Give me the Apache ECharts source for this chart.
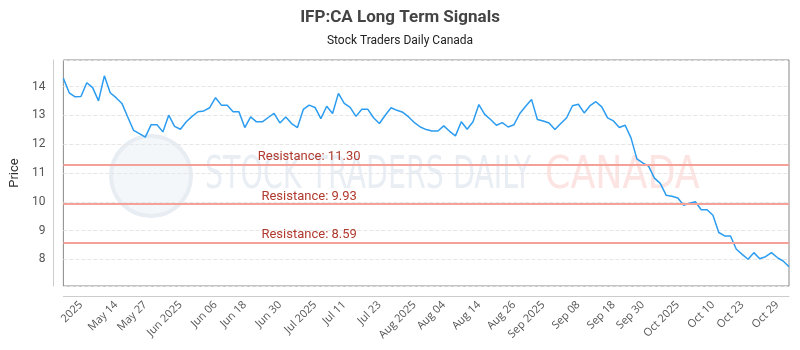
<!DOCTYPE html>
<html>
<head>
<meta charset="utf-8">
<script src="https://cdn.jsdelivr.net/npm/echarts@6/dist/echarts.min.js"></script>
<style>
  html, body { margin: 0; padding: 0; background: #fff; }
  #chart { width: 800px; height: 350px; }
</style>
</head>
<body>
<div id="chart"></div>
<script>
// closing prices, one per trading day
const prices = [
  14.29, 13.79, 13.65, 13.66, 14.14, 13.97, 13.51, 14.38, 13.79, 13.62,
  13.42, 12.95, 12.48, 12.37, 12.25, 12.68, 12.68, 12.43, 13.01, 12.62,
  12.52, 12.78, 12.97, 13.13, 13.16, 13.27, 13.62, 13.36, 13.36, 13.13,
  13.13, 12.58, 12.95, 12.78, 12.78, 12.93, 13.07, 12.74, 12.95, 12.72,
  12.58, 13.21, 13.36, 13.28, 12.89, 13.32, 13.07, 13.77, 13.42, 13.28,
  12.97, 13.22, 13.22, 12.92, 12.72, 13.01, 13.27, 13.18, 13.11, 12.95,
  12.75, 12.60, 12.51, 12.46, 12.46, 12.64, 12.45, 12.29, 12.78, 12.52,
  12.78, 13.38, 13.04, 12.86, 12.66, 12.75, 12.60, 12.68, 13.07, 13.32,
  13.56, 12.86, 12.81, 12.74, 12.51, 12.72, 12.92, 13.34, 13.39, 13.09,
  13.34, 13.48, 13.30, 12.92, 12.81, 12.58, 12.66, 12.22, 11.49, 11.35,
  11.24, 10.82, 10.64, 10.23, 10.19, 10.13, 9.88, 9.95, 10.0, 9.72,
  9.72, 9.53, 8.93, 8.81, 8.81, 8.35, 8.17, 8.00, 8.23, 8.02,
  8.09, 8.23, 8.06, 7.94, 7.74
];

const labelIdx = [3, 9, 14, 20, 26, 31, 37, 43, 48, 54, 60, 65, 71, 77, 82, 88, 94, 99, 105, 111, 116, 122];
const labelText = ["2025", "May 14", "May 27", "Jun 2025", "Jun 06", "Jun 18", "Jun 30",
  "Jul 2025", "Jul 11", "Jul 23", "Aug 2025", "Aug 04", "Aug 14", "Aug 26",
  "Sep 2025", "Sep 08", "Sep 18", "Sep 30", "Oct 2025", "Oct 10", "Oct 23", "Oct 29"];

const resistance = [11.30, 9.93, 8.59];

// weekday dates as categories
const dates = [];
const d = new Date(2025, 4, 2);
while (dates.length < prices.length) {
  const wd = d.getDay();
  if (wd !== 0 && wd !== 6) {
    dates.push(d.getFullYear() + "-" + String(d.getMonth() + 1).padStart(2, "0") + "-" + String(d.getDate()).padStart(2, "0"));
  }
  d.setDate(d.getDate() + 1);
}

const chart = echarts.init(document.getElementById("chart"), null, { renderer: "canvas" });

const markData = [];
resistance.forEach(r => {
  // full-width red line
  markData.push({ yAxis: r, label: { show: false } });
  // transparent segment whose middle carries the label
  markData.push([
    {
      xAxis: 0, yAxis: r,
      name: "Resistance: " + r.toFixed(2),
      lineStyle: { color: "rgba(0,0,0,0)" },
      label: { show: true }
    },
    { xAxis: 84, yAxis: r }
  ]);
});

chart.setOption({
  animation: false,
  title: {
    text: "IFP:CA Long Term Signals",
    subtext: "Stock Traders Daily Canada",
    left: "center",
    top: 4,
    itemGap: 9,
    textStyle: { fontFamily: "Roboto", fontWeight: "bold", fontSize: 17, color: "#444" },
    subtextStyle: { fontFamily: "Roboto", fontSize: 12, color: "#222" }
  },
  graphic: [
    {
      type: "circle",
      shape: { cx: 151, cy: 176, r: 40 },
      style: { fill: "#f4f7fa", stroke: "#e8edf3", lineWidth: 4 },
      z: -1
    },
    {
      type: "text",
      x: 205,
      y: 155,
      scaleX: 0.72,
      style: {
        text: "STOCK TRADERS DAILY",
        font: "44px 'DejaVu Sans Condensed'",
        fill: "#e9eef4"
      },
      z: -1
    },
    {
      type: "text",
      x: 545,
      y: 155,
      scaleX: 0.92,
      style: {
        text: "CANADA",
        font: "44px 'DejaVu Sans Condensed'",
        fill: "#fce4e2"
      },
      z: -1
    }
  ],
  grid: {
    left: 61,
    right: 11,
    top: 60,
    bottom: 64,
    show: true,
    borderColor: "#888",
    borderWidth: 1
  },
  xAxis: {
    type: "category",
    data: dates,
    boundaryGap: false,
    offset: 10,
    axisLine: { lineStyle: { color: "#ccc" } },
    axisTick: { show: false },
    splitLine: { show: false },
    axisLabel: {
      rotate: 45,
      margin: 7,
      fontFamily: "Open Sans",
      fontSize: 11,
      color: "#555",
      interval: (idx) => labelIdx.includes(idx),
      formatter: (val, idx) => labelText[labelIdx.indexOf(idx)]
    }
  },
  yAxis: {
    type: "value",
    min: 7.07,
    max: 14.93,
    splitNumber: 8,
    offset: 10,
    name: "Price",
    nameLocation: "middle",
    nameGap: 32,
    nameTextStyle: { fontFamily: "Roboto", fontSize: 13, color: "#333" },
    axisLine: { show: true, lineStyle: { color: "#ccc" } },
    axisTick: { show: false },
    axisLabel: {
      margin: 8,
      fontFamily: "Roboto",
      fontSize: 12,
      color: "#555",
      showMinLabel: false,
      showMaxLabel: false
    },
    splitLine: { lineStyle: { color: "#e6e6e6", type: "dashed" } }
  },
  series: [
    {
      type: "line",
      data: prices,
      symbol: "none",
      lineStyle: { color: "#2b9cf0", width: 1.5 },
      z: 3,
      markLine: {
        silent: true,
        symbol: "none",
        lineStyle: { color: "#f4a19a", width: 2, type: "solid" },
        label: {
          position: "insideMiddleTop",
          distance: 1,
          fontFamily: "Roboto",
          fontSize: 13,
          color: "#b03a2e",
          formatter: "{b}"
        },
        data: markData
      }
    }
  ]
});
</script>
</body>
</html>
